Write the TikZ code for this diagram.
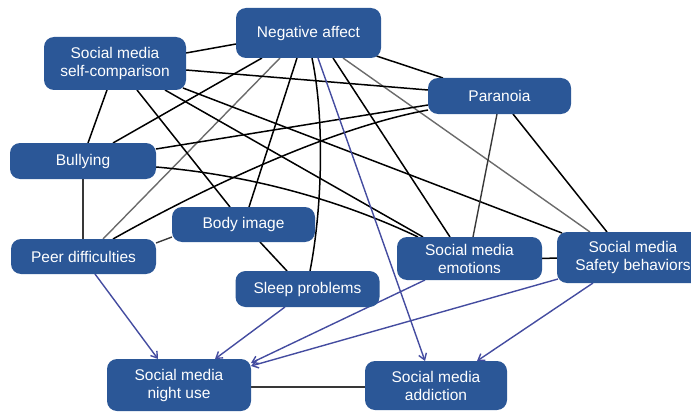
\documentclass[tikz,border=0pt]{standalone}
\usepackage{fontspec}
\setmainfont{Liberation Sans}
\usetikzlibrary{arrows.meta,calc,backgrounds}
\definecolor{boxblue}{RGB}{43,87,151}
\definecolor{arrblue}{RGB}{68,76,160}
\begin{document}
\begin{tikzpicture}[x=1pt,y=-1pt,
  box/.style={draw=none, fill=boxblue, rounded corners=10pt, text=white, align=center,
    font=\fontsize{15.5}{18}\selectfont, inner sep=0pt},
  lk/.style={line width=1.5pt, black},
  lg/.style={line width=1.4pt, black!58},
  ld/.style={line width=1.4pt, black!78},
  ar/.style={line width=1.4pt, arrblue, -{Straight Barb[length=6pt,width=8pt,line width=1.4pt]}}]
\useasboundingbox (0,0) rectangle (691,412);

\node[box, minimum width=145pt, minimum height=50pt] (na) at (308.5,33) {Negative affect};
\node[box, minimum width=142pt, minimum height=53pt] (sc) at (115,63.5) {Social media\\self-comparison};
\node[box, minimum width=143pt, minimum height=36pt] (par) at (499.5,96) {Paranoia};
\node[box, minimum width=146pt, minimum height=36pt] (bul) at (83,161) {Bullying};
\node[box, minimum width=143pt, minimum height=35pt] (body) at (243.5,224.5) {Body image};
\node[box, minimum width=145pt, minimum height=35pt] (peer) at (83.5,256.5) {Peer difficulties};
\node[box, minimum width=144pt, minimum height=36pt] (sleep) at (307.5,289) {Sleep problems};
\node[box, minimum width=145pt, minimum height=43pt] (emo) at (469.5,258.5) {Social media\\emotions};
\node[box, minimum width=152pt, minimum height=51pt] (saf) at (633,257.5) {Social media\\Safety behaviors};
\node[box, minimum width=144pt, minimum height=52pt] (night) at (179,385) {Social media\\night use};
\node[box, minimum width=142pt, minimum height=49pt] (add) at (436,385.5) {Social media\\addiction};

\begin{scope}[on background layer]
% Negative affect
\draw[lk] ($(na)+(-72.5,11)$) -- ($(sc)+(71,-10.5)$);
\draw[lk] ($(na)+(68,23)$) -- ($(par)+(-56.5,-18)$);
\draw[lk] ($(na)+(-46.5,25)$) -- ($(bul)+(30,-18)$);
\draw[lg] ($(na)+(-28.5,25)$) -- ($(peer)+(19.5,-17.5)$);
\draw[lk] ($(na)+(-11.5,25)$) -- ($(body)+(5.5,-17.5)$);
\draw[lk] ($(na)+(3.5,25)$) .. controls (325,120) and (322,210) .. ($(sleep)+(2.5,-18)$);
\draw[lk] ($(na)+(24.5,25)$) -- ($(emo)+(-19.5,-21.5)$);
\draw[lg] ($(na)+(34.5,25)$) -- ($(saf)+(-43,-25.5)$);
% self-comparison
\draw[lk] ($(sc)+(71,6.5)$) -- ($(par)+(-71.5,-6)$);
\draw[lk] ($(sc)+(-8,26.5)$) -- ($(bul)+(5,-18)$);
\draw[lk] ($(sc)+(22,26.5)$) -- ($(body)+(-13.5,-17.5)$);
\draw[lk] ($(sc)+(50,26.5)$) -- ($(emo)+(-46.5,-21.5)$);
\draw[lk] ($(sc)+(68,24.5)$) -- ($(saf)+(-71,-24.5)$);
% Paranoia
\draw[lk] ($(par)+(-71.5,9)$) -- ($(bul)+(73,-12)$);
\draw[lk] ($(par)+(-71.5,14)$) .. controls (330,128) and (200,190) .. ($(peer)+(29.5,-17.5)$);
\draw[ld] ($(par)+(-2.5,18)$) -- ($(emo)+(3.5,-21.5)$);
\draw[lk] ($(par)+(13.5,18)$) -- ($(saf)+(-26,-25.5)$);
% Bullying
\draw[ld] ($(bul)+(0,18)$) -- ($(peer)+(-0.5,-17.5)$);
\draw[lk] ($(bul)+(73,6)$) .. controls (250,175) and (340,200) .. ($(emo)+(-51.5,-21.5)$);
% others
\draw[ld] ($(body)+(-71.5,12.5)$) -- ($(peer)+(72.5,-13.5)$);
\draw[lk] ($(body)+(16.5,17.5)$) -- ($(sleep)+(-20.5,-18)$);
\draw[lk] ($(emo)+(72.5,0)$) -- ($(saf)+(-76,0.5)$);
\draw[ld] ($(night)+(72,2)$) -- ($(add)+(-71,1.5)$);
% arrows
\draw[ar] ($(peer)+(11.5,17.5)$) -- ($(night)+(-21,-26)$);
\draw[ar] ($(sleep)+(-22.5,18)$) -- ($(night)+(36,-26)$);
\draw[ar] ($(emo)+(-44.5,21.5)$) -- ($(night)+(72,-22)$);
\draw[ar] ($(saf)+(-75,21.5)$) -- ($(night)+(72,-19)$);
\draw[ar] ($(na)+(9.5,25)$) -- ($(add)+(-11,-24.5)$);
\draw[ar] ($(saf)+(-40,25.5)$) -- ($(add)+(41,-24.5)$);
\end{scope}
\end{tikzpicture}
\end{document}
